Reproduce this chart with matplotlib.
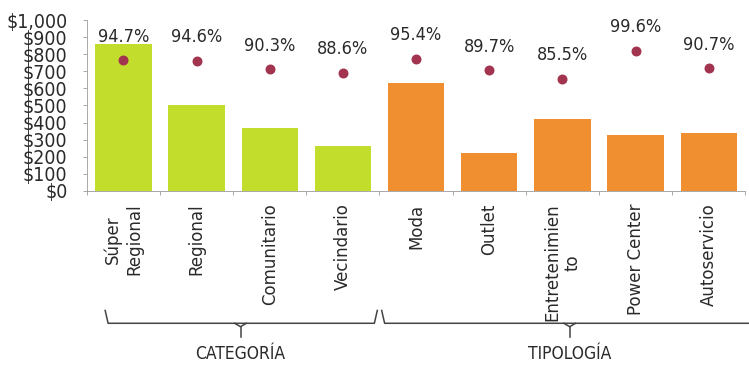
import numpy as np
import matplotlib.pyplot as plt

# Retail space by mall category / typology, with occupancy rate
categories = ["Súper\nRegional", "Regional", "Comunitario", "Vecindario",
              "Moda", "Outlet", "Entretenimien\nto", "Power Center", "Autoservicio"]
surface = [860, 503, 368, 263, 632, 222, 421, 327, 339]
occupancy = [94.7, 94.6, 90.3, 88.6, 95.4, 89.7, 85.5, 99.6, 90.7]
groups = ["CATEGORÍA", "TIPOLOGÍA"]
group_sizes = [4, 5]
yticks = list(range(0, 1001, 100))

GREEN = "#c3dd2c"
ORANGE = "#ef8f30"
DOT = "#a23450"
GRAY = "#9a9a9a"
TXT = "#2a2a2a"

fig = plt.figure(figsize=(7.49, 3.65), dpi=100)
ax = fig.add_axes([0.116, 0.477, 0.879, 0.468])

x = np.arange(len(categories))
colors = [GREEN] * group_sizes[0] + [ORANGE] * group_sizes[1]
ax.bar(x, surface, width=0.77, color=colors, zorder=2)

ax.set_xlim(-0.5, len(categories) - 0.5)
ax.set_ylim(0, 1000)
ax.set_yticks(yticks)
ax.set_yticklabels(["${:,}".format(v) for v in yticks], fontsize=14,
                   color=TXT, fontstretch="condensed")
ax.tick_params(axis="y", length=3, color=GRAY, width=0.6, pad=11)

ax.set_xticks(x)
ax.set_xticklabels(categories, rotation=90, fontsize=12, color=TXT,
                   va="top", ha="center", multialignment="center")
ax.set_xticks(np.arange(-0.5, len(categories), 1), minor=True)
ax.tick_params(axis="x", which="major", length=0, pad=9)
ax.tick_params(axis="x", which="minor", length=3, color=GRAY, width=0.6)

for side in ["top", "right"]:
    ax.spines[side].set_visible(False)
for side in ["left", "bottom"]:
    ax.spines[side].set_color(GRAY)
    ax.spines[side].set_linewidth(0.6)

# occupancy dots on a hidden secondary scale
ax2 = ax.twinx()
ax2.set_ylim(29, 115)
ax2.axis("off")
ax2.scatter(x, occupancy, s=38, color=DOT, zorder=3)
for xi, p in zip(x, occupancy):
    ax2.annotate(f"{p}%", (xi, p), xytext=(0, 17), textcoords="offset points",
                 ha="center", va="center", fontsize=13, color=TXT,
                 fontstretch="condensed")

# group braces under the category labels
trans = ax.get_xaxis_transform()
y_line, y_end, y_tip = -0.775, -0.70, -0.855
start = -0.5
for name, n in zip(groups, group_sizes):
    left = start + 0.25 if start < 0 else start + 0.03
    right = start + n - 0.03 if start + n < len(categories) - 0.5 else start + n + 0.1
    mid = start + n / 2 + (0.1 if start < 0 else 0.1)
    xs = [left, left + 0.04, right - 0.04, right]
    ys = [y_end, y_line, y_line, y_end]
    ax.plot(xs, ys, color="#444444", lw=1.1, transform=trans, clip_on=False)
    ax.plot([mid - 0.08, mid, mid + 0.08], [y_line, y_line - 0.02, y_line],
            color="#444444", lw=1.1, transform=trans, clip_on=False)
    ax.plot([mid, mid], [y_line - 0.02, y_tip], color="#444444", lw=1.1,
            transform=trans, clip_on=False)
    ax.text(start + n / 2 + 0.1, -0.955, name,
            transform=trans, ha="center", va="center", fontsize=12.5,
            color=TXT, fontstretch="condensed")
    start += n

fig.savefig("out.png", dpi=100)
